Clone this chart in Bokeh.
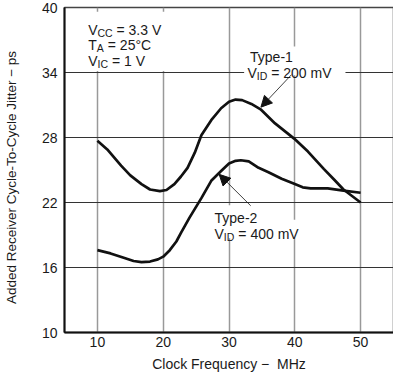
from bokeh.plotting import figure
from bokeh.models import Label, Arrow, NormalHead, BoxAnnotation, FixedTicker, Range1d
from bokeh.embed import file_html
from bokeh.resources import INLINE

# Data
freq_type1 = [10, 11.5, 13.6, 15, 16.7, 18, 19.5, 20.5, 21.7, 22.7, 23.7, 24.8, 25.8,
              27.3, 28.8, 30, 31, 32, 33.4, 34.8, 37, 39.9, 42, 44.4, 46, 47.4, 50]
jitter_type1 = [27.7, 26.9, 25.4, 24.5, 23.7, 23.2, 23.05, 23.15, 23.7, 24.4, 25.2, 26.6, 28.2,
                29.6, 30.7, 31.3, 31.5, 31.45, 31.1, 30.6, 29.3, 27.9, 26.7, 25.1, 24.1, 23.2, 22.0]

freq_type2 = [10, 12, 14, 15.5, 16.7, 18, 19.2, 20, 21, 22, 22.7, 24, 25.8, 27.3, 28.8,
              30, 31, 31.8, 33, 34.5, 36, 38, 40, 41.2, 42.4, 45, 47.4, 50]
jitter_type2 = [17.6, 17.3, 16.9, 16.6, 16.5, 16.55, 16.75, 17.0, 17.6, 18.4, 19.2, 20.6, 22.4, 24.0, 24.9,
                25.6, 25.85, 25.9, 25.8, 25.2, 24.8, 24.2, 23.7, 23.4, 23.3, 23.3, 23.1, 22.9]

x_ticks = [10, 20, 30, 40, 50]
y_ticks = [10, 16, 22, 28, 34, 40]

FONT = "Liberation Sans"
TXT = "#1a1a1a"

p = figure(frame_width=329, frame_height=325, output_backend="svg", toolbar_location=None,
           x_range=Range1d(5, 55), y_range=Range1d(10, 40),
           min_border_left=60, min_border_right=2, min_border_top=7, min_border_bottom=0)

p.background_fill_color = "white"
p.border_fill_color = "white"
p.outline_line_color = "#444444"
p.outline_line_width = 1.5

p.xaxis.ticker = FixedTicker(ticks=x_ticks)
p.yaxis.ticker = FixedTicker(ticks=y_ticks)
for ax in (p.xaxis[0], p.yaxis[0]):
    ax.axis_line_color = "#111111"
    ax.axis_line_width = 2
    ax.major_tick_line_color = None
    ax.minor_tick_line_color = None
    ax.major_tick_out = 0
    ax.major_tick_in = 0
    ax.minor_tick_out = 0
    ax.minor_tick_in = 0
    ax.major_label_text_font = FONT
    ax.major_label_text_font_size = "14px"
    ax.major_label_text_color = TXT
    ax.axis_label_text_font = FONT
    ax.axis_label_text_font_style = "normal"
    ax.axis_label_text_color = TXT

p.xaxis.axis_label = "Clock Frequency − \u00a0MHz"
p.xaxis.axis_label_text_font_size = "14px"
p.xaxis.major_label_standoff = 4
p.xaxis.axis_label_standoff = 6
p.yaxis.axis_label = "Added Receiver Cycle-To-Cycle Jitter − ps\u00a0\u00a0\u00a0\u00a0"
p.yaxis.axis_label_text_font_size = "13.5px"
p.yaxis.major_label_standoff = 7
p.yaxis.axis_label_standoff = 20

p.xgrid.grid_line_color = "#999999"
p.xgrid.grid_line_width = 1.5
p.ygrid.grid_line_color = "#333333"
p.ygrid.grid_line_width = 1

# white boxes behind the annotation texts (hide grid lines)
boxes = [
    (6.1, 24.0, 39.6, 34.15),
    (32.8, 40.2, 36.4, 34.9),
    (32.3, 47.7, 35.0, 33.75),
    (27.4, 34.4, 21.75, 20.3),
    (27.3, 40.8, 20.4, 18.7),
]
for l, r, t, b in boxes:
    p.add_layout(BoxAnnotation(left=l, right=r, top=t, bottom=b, fill_color="white",
                               fill_alpha=1, line_alpha=0, level="underlay"))

p.line(freq_type1, jitter_type1, line_color="#111111", line_width=2.7, line_join="round")
p.line(freq_type2, jitter_type2, line_color="#111111", line_width=2.7, line_join="round")


def lab(x, y, text, size=14, xo=0, yo=0):
    p.add_layout(Label(x=x, y=y, text=text, x_offset=xo, y_offset=yo,
                       text_font=FONT, text_font_size=f"{size}px", text_color=TXT,
                       text_baseline="alphabetic", text_align="left"))


def sub_lab(x, y, main, sub, rest, main_w, sub_w):
    lab(x, y, main)
    lab(x, y, sub, size=10.5, xo=main_w, yo=-3)
    lab(x, y, rest, xo=main_w + sub_w + 4)


sub_lab(8.6, 37.94, "V", "CC", "= 3.3 V", 9.3, 15.0)
sub_lab(8.6, 36.5, "T", "A", "= 25°C", 8.6, 7.0)
sub_lab(8.6, 35.06, "V", "IC", "= 1 V", 9.3, 10.5)

lab(33.2, 35.45, "Type-1")
sub_lab(32.8, 33.94, "V", "ID", "= 200 mV", 9.3, 10.5)
lab(27.8, 20.6, "Type-2")
sub_lab(27.8, 19.1, "V", "ID", "= 400 mV", 9.3, 10.5)

for xs, ys, xe, ye in [(39.5, 33.8, 34.85, 30.8), (33.3, 21.7, 28.5, 24.6)]:
    p.add_layout(Arrow(x_start=xs, y_start=ys, x_end=xe, y_end=ye, line_width=0.8,
                       line_color="#111111",
                       end=NormalHead(size=11, fill_color="#111111", line_color="#111111")))

open("out.html", "w").write(file_html(p, INLINE))
